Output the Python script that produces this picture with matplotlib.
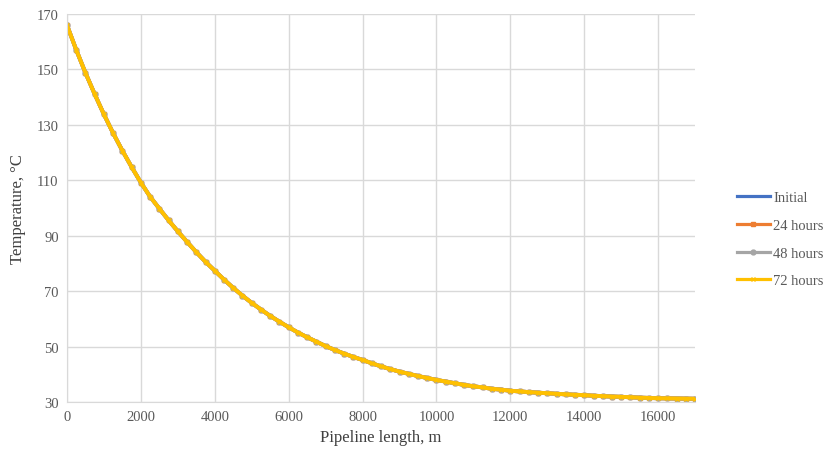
import numpy as np
import matplotlib
matplotlib.use("Agg")
import matplotlib.pyplot as plt

# pipeline position, m (every 250 m)
length_m = np.arange(0, 17001, 250)

# temperature profile, degC (the four curves lie on top of each other)
temp_profile = [
    166.0, 157.1, 148.8, 141.1, 133.8, 127.0, 120.7, 114.8, 109.2, 104.1,
    99.8, 95.6, 91.6, 87.8, 84.1, 80.6, 77.4, 74.2, 71.2, 68.4,
    65.8, 63.4, 61.1, 59.0, 57.0, 55.1, 53.4, 51.8, 50.2, 48.8,
    47.5, 46.3, 45.2, 44.0, 42.9, 41.9, 41.0, 40.2, 39.4, 38.7,
    38.0, 37.4, 36.8, 36.2, 35.7, 35.3, 34.8, 34.5, 34.1, 33.85,
    33.6, 33.4, 33.2, 33.0, 32.8, 32.65, 32.5, 32.3, 32.15, 32.0,
    31.9, 31.75, 31.6, 31.5, 31.4, 31.35, 31.3, 31.25, 31.2,
]

series_names = ['Initial', '24 hours', '48 hours', '72 hours']
series_temps = [temp_profile, temp_profile, temp_profile, temp_profile]
colors = ['#4472C4', '#ED7D31', '#A5A5A5', '#FFC000']
markers = [None, 's', 'o', 'x']

x_ticks = [0, 2000, 4000, 6000, 8000, 10000, 12000, 14000, 16000]
y_ticks = [30, 50, 70, 90, 110, 130, 150, 170]

plt.rcParams['font.family'] = ['Liberation Serif', 'DejaVu Serif']

fig = plt.figure(figsize=(8.32, 4.56), dpi=100)
ax = fig.add_axes([0.0805, 0.116, 0.755, 0.851])

for name, temps, c, m in zip(series_names, series_temps, colors, markers):
    ax.plot(length_m, temps, color=c, linewidth=2.8, marker=m, markersize=3.5,
            markeredgewidth=1, label=name)

ax.set_xlim(0, 17000)
ax.set_ylim(30, 170)
ax.set_xticks(x_ticks)
ax.set_yticks(y_ticks)
ax.grid(True, color='#d9d9d9', linewidth=1)
ax.set_axisbelow(True)
for s in ['top', 'right']:
    ax.spines[s].set_visible(False)
for s in ['left', 'bottom']:
    ax.spines[s].set_color('#d9d9d9')
ax.tick_params(length=0, labelsize=10.5, labelcolor='#595959', pad=6)

ax.set_xlabel('Pipeline length, m', fontsize=12, color='#404040', labelpad=4)
ax.set_ylabel('Temperature, °C', fontsize=12, color='#404040', labelpad=8)

leg = ax.legend(loc='center left', bbox_to_anchor=(1.045, 0.42), frameon=False,
                fontsize=10.5, handlelength=2.3, labelspacing=1.0, handletextpad=0.2,
                labelcolor='#595959')
for h in leg.legend_handles:
    h.set_linewidth(2.3)

plt.savefig('out.png', dpi=100)
